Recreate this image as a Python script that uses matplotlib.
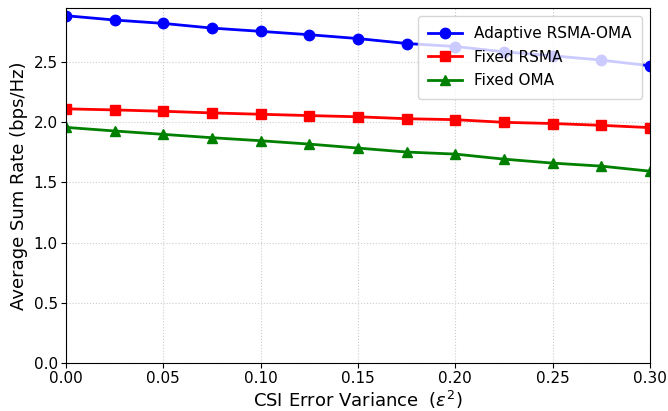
import matplotlib
matplotlib.use("Agg")
import matplotlib.pyplot as plt

# CSI error variance values
csi_var = [0.0, 0.025, 0.05, 0.075, 0.1, 0.125, 0.15, 0.175, 0.2, 0.225, 0.25, 0.275, 0.3]

# Average sum rate for each scheme (bps/Hz)
adaptive = [2.886, 2.85, 2.822, 2.783, 2.756, 2.728, 2.696, 2.655, 2.63, 2.586, 2.553, 2.517, 2.47]
fixed_rsma = [2.112, 2.103, 2.092, 2.078, 2.067, 2.056, 2.046, 2.03, 2.022, 2.0, 1.99, 1.975, 1.956]
fixed_oma = [1.958, 1.928, 1.9, 1.872, 1.847, 1.819, 1.786, 1.753, 1.736, 1.694, 1.661, 1.636, 1.594]

fig = plt.figure(figsize=(6.68, 4.11), dpi=100)
ax = fig.add_axes([66 / 668, 1 - 363 / 411, 584 / 668, 355 / 411])

ax.plot(csi_var, adaptive, "-o", color="blue", lw=2.0, ms=7.5, label="Adaptive RSMA-OMA")
ax.plot(csi_var, fixed_rsma, "-s", color="red", lw=2.0, ms=7.5, label="Fixed RSMA")
ax.plot(csi_var, fixed_oma, "-^", color="green", lw=2.0, ms=7.5, label="Fixed OMA")

ax.set_xlim(0, 0.3)
ax.set_ylim(0, 2.95)
ax.set_xticks([0.0, 0.05, 0.1, 0.15, 0.2, 0.25, 0.3])
ax.set_yticks([0.0, 0.5, 1.0, 1.5, 2.0, 2.5])
ax.tick_params(labelsize=11, pad=2.5)
ax.grid(True, linestyle=":", color="#cccccc", linewidth=0.8)

ax.set_xlabel(r"CSI Error Variance  ($\epsilon^2$)", fontsize=13, labelpad=2)
ax.set_ylabel("Average Sum Rate (bps/Hz)", fontsize=13, labelpad=4)

ax.legend(loc="upper right", fontsize=11, framealpha=0.8, labelspacing=0.55,
          handlelength=2.2, borderpad=0.7, borderaxespad=0.5)

fig.savefig("out.png", dpi=100)
